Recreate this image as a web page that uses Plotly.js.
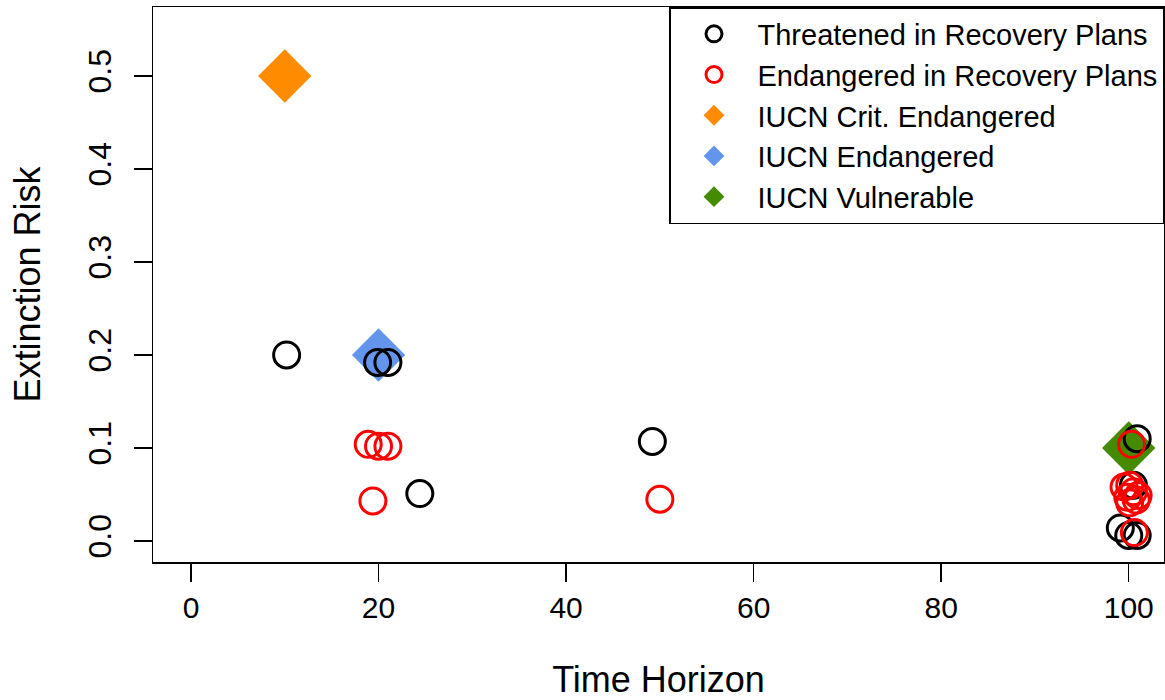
<!DOCTYPE html>
<html>
<head>
<meta charset="utf-8">
<script src="https://cdn.plot.ly/plotly-3.0.1.min.js"></script>
<style>html,body{margin:0;padding:0;background:#fff;}#chart{width:1165px;height:700px;}</style>
</head>
<body>
<div id="chart"></div>
<script>
// Threatened in Recovery Plans (black open circles)
const threatX = [10.2, 19.9, 21.0, 24.4, 49.2, 100.9, 100.5, 99.1, 100.0, 100.9];
const threatY = [0.200, 0.192, 0.192, 0.051, 0.107, 0.110, 0.060, 0.014, 0.006, 0.006];
// Endangered in Recovery Plans (red open circles)
const endX = [18.9, 20.0, 21.0, 19.4, 50.0, 100.3, 99.5, 100.1, 100.5, 99.9, 100.8, 100.1, 101.0, 100.6];
const endY = [0.104, 0.102, 0.102, 0.043, 0.045, 0.104, 0.058, 0.060, 0.053, 0.047, 0.044, 0.041, 0.049, 0.009];
// IUCN categories (filled diamonds)
const critX = [10];  const critY = [0.5];
const iucnEndX = [20]; const iucnEndY = [0.2];
const vulnX = [100]; const vulnY = [0.1];

const seriesNames = ["Threatened in Recovery Plans", "Endangered in Recovery Plans",
                     "IUCN Crit. Endangered", "IUCN Endangered", "IUCN Vulnerable"];
const xTicks = [0, 20, 40, 60, 80, 100];
const yTicks = [0.0, 0.1, 0.2, 0.3, 0.4, 0.5];
const yTickText = ["0.0", "0.1", "0.2", "0.3", "0.4", "0.5"];

const FONT = "Liberation Sans, Arial, Helvetica, sans-serif";

function diamond(x, y, name, color, rank) {
  return {x: x, y: y, name: name, type: "scatter", mode: "markers", legendrank: rank,
    marker: {symbol: "diamond", size: 41, color: color, line: {width: 0}}, hoverinfo: "x+y"};
}
function ring(x, y, name, color, rank) {
  return {x: x, y: y, name: name, type: "scatter", mode: "markers", legendrank: rank,
    marker: {symbol: "circle-open", size: 26, color: color, line: {width: 3, color: color}}, hoverinfo: "x+y"};
}

const data = [
  diamond(critX, critY, seriesNames[2], "#FF8C00", 3),
  diamond(iucnEndX, iucnEndY, seriesNames[3], "#6495ED", 4),
  diamond(vulnX, vulnY, seriesNames[4], "#458B00", 5),
  ring(threatX, threatY, seriesNames[0], "#000000", 1),
  ring(endX, endY, seriesNames[1], "#FF0000", 2)
];

const layout = {
  width: 1165, height: 700,
  margin: {l: 153, r: 1, t: 7, b: 138, pad: 0},
  paper_bgcolor: "#fff", plot_bgcolor: "#fff",
  font: {family: FONT, color: "#000"},
  showlegend: true,
  legend: {x: 1, xanchor: "right", y: 1, yanchor: "top", bgcolor: "#fff",
    bordercolor: "#000", borderwidth: 1.5, font: {size: 29, family: FONT, color: "#000"},
    itemwidth: 77, traceorder: "normal"},
  xaxis: {range: [-4.05, 103.76], tickvals: xTicks, ticktext: xTicks.map(String),
    showgrid: false, zeroline: false, showline: true, mirror: true, linecolor: "#000", linewidth: 1.5,
    ticks: "outside", ticklen: 18, tickwidth: 1.5, tickcolor: "#000",
    tickfont: {size: 30, family: FONT},
    title: {text: "Time Horizon", font: {size: 36, family: FONT}, standoff: 44}},
  yaxis: {range: [-0.0226, 0.5742], tickvals: yTicks, ticktext: yTickText,
    showgrid: false, zeroline: false, showline: true, mirror: true, linecolor: "#000", linewidth: 1.5,
    ticks: "outside", ticklen: 18, tickwidth: 1.5, tickcolor: "#000", tickangle: -90,
    ticklabelstandoff: 10,
    tickfont: {size: 32, family: FONT},
    title: {text: "Extinction Risk", font: {size: 36, family: FONT}, standoff: 30}}
};

Plotly.newPlot("chart", data, layout, {displayModeBar: false, staticPlot: true});
</script>
</body>
</html>
